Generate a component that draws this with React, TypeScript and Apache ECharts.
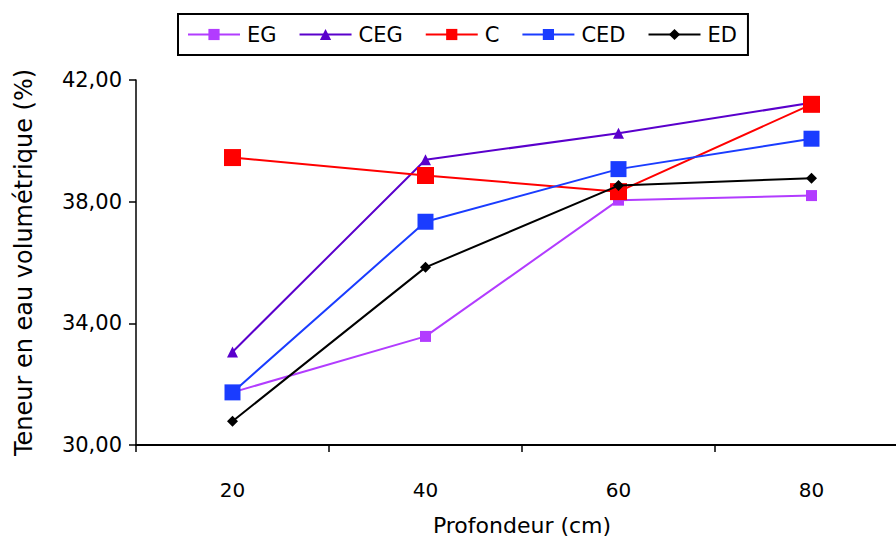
import React, { useEffect, useRef } from "react";
import * as echarts from "echarts";

const depths = ["20", "40", "60", "80"];
const seriesNames = ["EG", "CEG", "C", "CED", "ED"];
const egValues = [31.73, 33.57, 38.05, 38.2];
const cegValues = [33.06, 39.38, 40.25, 41.25];
const cValues = [39.45, 38.86, 38.33, 41.2];
const cedValues = [31.73, 37.34, 39.07, 40.07];
const edValues = [30.78, 35.84, 38.53, 38.77];
const yTicks = [30, 34, 38, 42];

const colors = ["#B23CFF", "#5A00CC", "#FF0000", "#1A3CFF", "#000000"];
const symbols = ["rect", "triangle", "rect", "rect", "diamond"];
const symbolSizes = [11, 11, 17, 16, 11];

export default function App() {
  const ref = useRef<HTMLDivElement>(null);
  useEffect(() => {
    if (!ref.current) return;
    const chart = echarts.init(ref.current, null, { renderer: "svg" });
    const data = [egValues, cegValues, cValues, cedValues, edValues];
    const font = "DejaVu Sans";
    chart.setOption({
      animation: false,
      backgroundColor: "#ffffff",
      grid: { left: 136, right: 0, top: 80, bottom: 90, containLabel: false },
      legend: {
        top: 14,
        left: 178,
        data: seriesNames,
        itemWidth: 52,
        itemHeight: 14,
        itemGap: 22,
        padding: [10, 11, 10, 9],
        borderColor: "#000",
        borderWidth: 2,
        backgroundColor: "#fff",
        textStyle: { fontFamily: font, fontSize: 21, color: "#000", padding: [0, 0, 0, 2] },
      },
      xAxis: {
        type: "category",
        data: depths,
        boundaryGap: true,
        name: "Profondeur (cm)",
        nameLocation: "middle",
        nameGap: 69,
        nameTextStyle: { fontFamily: font, fontSize: 22, color: "#000" },
        axisLine: { lineStyle: { color: "#000", width: 2 } },
        axisTick: { show: true, alignWithLabel: false, length: 7, lineStyle: { color: "#000", width: 1.5 } },
        axisLabel: { margin: 35, fontFamily: font, fontSize: 20, color: "#000" },
        splitLine: { show: false },
      },
      yAxis: {
        type: "value",
        min: yTicks[0],
        max: yTicks[yTicks.length - 1],
        interval: 4,
        name: "Teneur en eau volumétrique (%)",
        nameLocation: "middle",
        nameGap: 100,
        nameTextStyle: { fontFamily: font, fontSize: 24, color: "#000" },
        axisLine: { show: true, lineStyle: { color: "#000", width: 1.5 } },
        axisTick: { show: true, length: 7, lineStyle: { color: "#000", width: 1.5 } },
        axisLabel: {
          margin: 14,
          fontFamily: font,
          fontSize: 21,
          color: "#000",
          formatter: (v: number) => v.toFixed(2).replace(".", ","),
        },
        splitLine: { show: false },
      },
      series: seriesNames.map((name, i) => ({
        name,
        type: "line",
        data: data[i],
        symbol: symbols[i],
        symbolSize: symbolSizes[i],
        showAllSymbol: true,
        z: 2 + i,
        itemStyle: { color: colors[i] },
        lineStyle: { color: colors[i], width: 2 },
      })),
    });
    return () => chart.dispose();
  }, []);
  return (
    <div style={{ position: "absolute", left: 0, top: 0, width: 896, height: 541, overflow: "hidden" }}>
      <div ref={ref} style={{ width: 908, height: 541 }} />
    </div>
  );
}
